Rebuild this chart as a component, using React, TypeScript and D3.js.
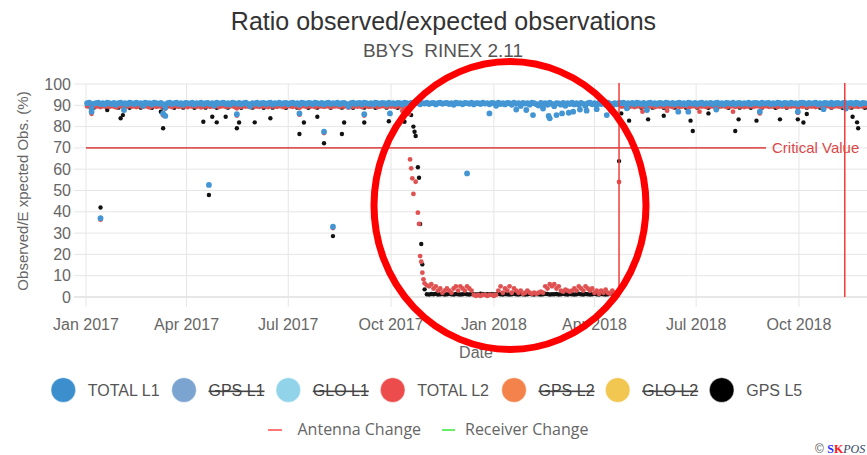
import React from "react";
import * as d3 from "d3";

const W = 867;
const H = 455;

const TITLE = "Ratio observed/expected observations";
const SUBTITLE = "BBYS  RINEX 2.11";
const Y_TITLE = "Observed/E xpected Obs. (%)";
const X_TITLE = "Date";
const Y_TICKS = [0, 10, 20, 30, 40, 50, 60, 70, 80, 90, 100];
const X_TICKS = ["2017-01-01", "2017-04-01", "2017-07-01", "2017-10-01", "2018-01-01", "2018-04-01", "2018-07-01", "2018-10-01"];
const BASE_DATE = "2017-01-01";
const END_DATE = "2018-11-30";
const CRITICAL_VALUE = 70;
const CRITICAL_LABEL = "Critical Value";
const ANTENNA_CHANGES = ["2018-04-23", "2018-11-11"];
const COPYRIGHT = ["© ", "S", "K", "POS"];

const LEGEND_NAMES = ["TOTAL L1", "GPS L1", "GLO L1", "TOTAL L2", "GPS L2", "GLO L2", "GPS L5"];
const LEGEND_COLORS = ["#3b8fcd", "#7ba4d0", "#91d4ea", "#ec4c4c", "#f3834a", "#f1c651", "#000000"];
const LEGEND_HIDDEN = [false, true, true, false, true, true, false];
const CHANGE_NAMES = ["Antenna Change", "Receiver Change"];
const CHANGE_COLORS = ["#ff7777", "#66ee66"];

// ---- TOTAL L1 (every 2nd day from day 1) ----
const L1_START = 1;
const L1_BAND = [
  91,91.2,88.6,90.8,91,91.3,90.6,91,90.4,91.2,91,90.6,91.1,90.2,91,91.3,90.7,91,90.5,91.2,
  91,90.6,91.2,90.8,91,89.8,91.2,90.9,91,90.4,91.2,91,90.7,91.1,90.5,88.8,91,91.2,90.6,91,
  91.2,90.6,91,90.3,91.1,91,90.7,91.2,90.4,91,90.8,91.2,90.5,91,91.1,90.6,91,89.9,91.2,90.8,
  91,91.2,90.6,91,90.4,91.2,91,90.7,91.1,90.5,91,91.2,90.6,89.6,91,90.8,91.2,90.5,91,91.1,
  90.6,91,91.2,90.4,91,90.8,91.2,90.6,91,91.1,90.5,91,91.2,90.7,91,90.3,91.2,91,90.6,91.1,
  91,90.5,91.2,91,90.7,91.1,90.4,91,91.2,90.6,91,90.8,91.2,90.5,91,91.1,90.6,89.4,91,91.2,
  90.6,91,91.1,90.5,91.2,91,90.7,91,90.4,91.2,91,90.6,91.1,91,90.5,91.2,90.8,91,90.6,91.1,
  91,90.4,91.2,91,90.7,91.1,90.6,91,91.2,90.5,91,90.8,91.2,90.6,91,91.1,90.4,91,91.2,90.7,
  91,91.1,90.6,91,90.2,91.2,90.9,91,90.5,91.1,91,90.7,91.2,90.4,91,91,90.6,91.2,90.8,91,
  90.5,91.1,91,89.8,91.2,90.6,91,90.4,91.1,91,90.2,91.2,90.7,91,89.7,91.1,90.8,91,90.3,91.2,
  91,90.5,89.9,91.1,90.8,91,90.2,91.2,90.6,89.6,91,90.9,90.3,91.1,89.8,91,90.6,91.2,90.4,91,
  90.2,91.1,90.7,89.7,91,91.2,90.5,91,89.9,91.1,90.6,91,90.3,91.2,90.8,89.8,91,90.5,91.1,91,
  91.2,90.6,91,90.8,91.1,90.5,91.2,91,90.6,91.1,90.4,91,91.2,90.7,91,90.5,91.1,91,90.6,91.2,
  91,90.7,91.1,90.5,91,91.2,90.6,91,90.4,91.2,91,90.7,91.1,90.5,91,91.2,90.6,91,90.8,91.1,
  90.5,91,91.2,90.6,91,90.4,91.1,91,90.7,91.2,90.5,91,91.1,90.6,91,90.8,91.2,90.5,91,91.1,
  91,90.6,91.2,90.8,91,91.1,90.5,91,90.7,91.2,91,90.4,91.1,91,90.6,91.2,90.8,91,90.5,91.1,
  91.2,91,90.6,91.1,90.8,91,91.2,90.5,91,90.7,91.1,91,90.6,91.2,90.5,91,91.1,90.7,91,91.2,
  90.8,91,91.1,90.6,91.2,91,90.5,91.1,91,
];
const L1_EXTRA = [
  [5, 87], [13, 37], [34, 87.8], [69, 86.2], [71, 85], [110, 52.6], [135, 85.8], [191, 86.2],
  [213, 77.6], [221, 33], [249, 85.8], [272, 86.2], [341, 58], [361, 86.2], [385, 88], [394, 87.8],
  [400, 85.4], [409, 88.5], [414, 85], [415, 83.9], [421, 85.4], [426, 86.2], [432, 86.5], [436, 87],
  [442, 88], [448, 87.5], [457, 88.2], [466, 85.4], [470, 87.5], [484, 88.6], [502, 87.8], [530, 87],
  [539, 87], [564, 88], [603, 87], [637, 87], [660, 88.2], [680, 88.5],
];

// ---- TOTAL L2 ----
const L2_BEFORE_START = 1;
const L2_BEFORE = [
  89.5,89.3,89,89.6,89.4,89.5,89.2,89.6,89.4,89.5,89.3,89.6,89.4,89,89.5,89.6,89.3,89.5,89.4,89.6,
  89.4,89.5,89.2,89.6,89.5,89.3,89.6,89.4,89,89.5,89.6,89.3,89.5,89.4,89.6,88.5,89.4,89.5,89.2,89.6,
  89.5,89.3,89.6,89.4,89.5,89.2,89.6,89.4,89.5,89.3,89.6,89,89.5,89.4,89.6,89.3,89.5,89.4,89.6,89.2,
  89.5,89.6,89.3,89.4,89.5,89.6,89.2,88.6,89.5,89.3,89.6,89.4,89.5,89.1,89.6,89.4,89.5,89.3,89.6,89.4,
  89.5,89.2,89.6,89.4,89.5,89.3,89.6,89.5,89.1,89.4,89.6,89.5,89.3,89.6,89.4,88.8,89.5,89.6,89.3,89.5,
  89.4,89.6,89.2,89.5,89.4,89.6,89.3,89.5,89.6,89.1,89.4,89.5,89.6,89.3,89.5,89.4,89.6,88.9,89.5,89.3,
  89.6,89.4,89.5,89.2,89.6,89.5,89.3,89.4,89.6,89.5,89.1,89.4,89.6,89.5,89.3,89.6,89.4,89.5,89.2,89.6,
  89.4,89.5,88.8,89.2,87.5,
];
const L2_LOW_START = 305;
const L2_LOW = [
  5.5,5,6,4,5, 3,4,2,3,4,3,2, 4,5,3,5,4,3,5,4,3, 1,0.5,1,0.5,1,1,0.5,1,1,0.5,1,
  3,5,2,4,3,5,2,4,3, 2,3,1.5,2,3,2,1.5, 2,1.5,2,2.5,2, 5,4,6,5,6,4,5, 3,2.5,3.5,3,2.5,3,
  4,3,5,4,3,5,4,3,4, 2,3,1.5,3,2,3.5,2,1.5,3,2,1.5,
];
const L2_AFTER_START = 479;
const L2_AFTER = [
  89.4,89.6,89.3,89.5,89.4,89.6,89.2,89.5,89.6,89.4,89.3,89.5,89.6,89.4,89.5,89.1,89.6,89.4,89.5,89.3,
  89.6,89.4,89.5,89.2,89.6,89.5,89.3,89.4,89.6,89.5,89.1,89.4,89.6,89.5,89.3,89.6,89.4,89.5,89.2,89.6,
  89.4,89.5,89.3,89.6,89.4,89.5,89.6,89.2,89.4,89.5,89.6,89.3,89.5,89.4,89.6,89.2,89.5,89.4,89.6,89.3,
  89.5,89.6,89.4,89.1,89.5,89.6,89.3,89.4,89.5,89.6,89.2,89.5,89.4,89.6,89.3,89.5,89.4,89.6,89.5,89.2,
  89.6,89.4,89.5,89.3,89.6,89.4,89.5,89.2,89.6,89.5,89.3,89.4,89.6,89.5,89.1,89.4,89.6,89.5,89.3,89.6,
  89.4,89.5,89.2,89.6,89.4,89.5,89.3,89.6,89.4,89.5,
];
const L2_EXTRA = [
  [5, 86], [13, 36.3], [69, 85.3], [135, 85.2], [191, 85.6], [213, 77], [221, 32.4], [249, 85.2],
  [283, 87.4], [289, 86], [290, 64.6], [291, 60.4], [292, 55.7], [293, 48.4], [295, 54.1], [297, 39.6],
  [298, 34.3], [299, 19.2], [300, 16.6], [301, 11.4], [302, 8.3], [303, 6.4], [477, 54],
  [498, 87], [520, 87.5], [549, 87], [579, 87], [603, 86.2], [637, 86.5],
];

// ---- GPS L5 ----
const L5_BEFORE_START = 1;
const L5_BEFORE = [
  89.8,89.7,89.9,88.9,89.8,89.7,89.9,89.8,89.7,88.8,89.9,89.8,89.7,89.9,88.9,89.8,89.7,89.9,89.8,88.8,
  89.7,89.9,89.8,89.7,88.9,89.8,89.9,89.7,89.8,88.8,89.9,89.7,89.8,89.9,88.9,89.7,89.8,89.9,89.7,88.8,
  89.8,89.9,89.7,88.9,89.8,89.7,89.9,89.8,88.8,89.7,89.9,89.8,89.7,88.9,89.8,89.9,89.7,89.8,88.8,89.7,
  89.9,89.8,89.7,88.9,89.8,89.9,89.7,89.8,89.7,88.8,89.9,89.8,89.7,89.9,88.9,89.8,89.7,89.9,89.8,88.8,
  89.7,89.9,89.8,88.9,89.7,89.8,89.9,89.7,89.8,88.8,89.9,89.7,89.8,89.9,88.9,89.7,89.8,89.9,89.7,88.8,
  89.8,89.7,89.9,88.9,89.8,89.7,89.9,89.8,89.7,88.8,89.9,89.8,89.7,89.9,88.9,89.8,89.7,89.9,89.8,88.8,
  89.7,89.9,89.8,89.7,88.9,89.8,89.9,89.7,89.8,88.8,89.9,89.7,89.8,89.9,88.9,89.7,89.8,89.9,89.7,88.8,
  89.8,89.7,88.9,89.8,89.7,
];
const L5_LOW_START = 305;
const L5_LOW = [
  1.3,1.2,1.4,1.3,1.5,1.2,1.3,1.4,1.2,1.3,1.5,1.3,1.2,1.4,1.3,1.2,1.3,1.5,1.3,1.2,
  1.4,1.3,1.2,1.3,1.5,1.4,1.2,1.3,1.3,1.4,1.2,1.3,1.5,1.3,1.2,1.4,1.3,1.2,1.3,1.5,
  1.3,1.2,1.4,1.3,1.2,1.3,1.5,1.3,1.2,1.4,1.3,1.2,1.3,1.5,1.4,1.2,1.3,1.3,1.4,1.2,
  1.3,1.5,1.3,1.2,1.4,1.3,1.2,1.3,1.5,1.3,1.2,1.4,1.3,1.2,1.3,1.5,1.3,1.2,1.4,1.3,
  1.2,1.3,1.5,1.3,1.2,1.4,
];
const L5_AFTER_START = 479;
const L5_AFTER = [
  89.8,89.7,89.9,88.9,89.8,89.7,89.9,89.8,89.7,88.8,89.9,89.8,89.7,89.9,88.9,89.8,89.7,89.9,89.8,88.8,
  89.7,89.9,89.8,89.7,88.9,89.8,89.9,89.7,89.8,88.8,89.9,89.7,89.8,89.9,88.9,89.7,89.8,89.9,89.7,88.8,
  89.8,89.9,89.7,88.9,89.8,89.7,89.9,89.8,88.8,89.7,89.9,89.8,89.7,88.9,89.8,89.9,89.7,89.8,88.8,89.7,
  89.9,89.8,89.7,88.9,89.8,89.9,89.7,89.8,89.7,88.8,89.9,89.8,89.7,89.9,88.9,89.8,89.7,89.9,89.8,88.8,
  89.7,89.9,89.8,88.9,89.7,89.8,89.9,89.7,89.8,88.8,89.9,89.7,89.8,89.9,88.9,89.7,89.8,89.9,89.7,88.8,
  89.8,89.7,89.9,88.9,89.8,89.7,89.9,89.8,89.7,88.8,
];
const L5_EXTRA = [
  [13, 42], [19, 87.8], [31, 83.9], [33, 85.4], [67, 87], [69, 79.2], [105, 82.3], [110, 47.9],
  [113, 84.6], [117, 82], [125, 84.6], [135, 79.2], [137, 81.9], [151, 82], [165, 83.9], [191, 76.5],
  [195, 81.9], [207, 84.6], [213, 72.2], [221, 28.6], [229, 76.5], [231, 81.9], [249, 81.9], [271, 82.5],
  [285, 82.3], [291, 85.4], [293, 80], [294, 77.6], [295, 75.6], [297, 60.9], [298, 56], [299, 34.3],
  [300, 24.9], [301, 15.3], [303, 3.6], [477, 63.8], [479, 86.2], [486, 82.8], [503, 83.4], [517, 85.1],
  [541, 82.8], [543, 77.9], [557, 86.2], [581, 77.9], [584, 83.4], [600, 82.8], [621, 83.4], [637, 83.4],
  [642, 81.9], [645, 85.9], [686, 84.6], [690, 82], [691, 79.2],
];

// ---- layout ----
const PLOT = { left: 86, right: 866, top: 84, bottom: 297 };
const LEGEND_X = [63.3, 184, 288.3, 392.7, 514, 617.7, 721.7];
const FONT = "'Liberation Sans', Arial, Helvetica, sans-serif";

const parse = d3.timeParse("%Y-%m-%d");
const base = parse(BASE_DATE) as Date;

type Pt = { date: Date; v: number };
function band(start: number, vals: (number | null)[], step = 2): Pt[] {
  const out: Pt[] = [];
  vals.forEach((v, i) => {
    if (v != null) out.push({ date: d3.timeDay.offset(base, start + i * step), v });
  });
  return out;
}
function extra(list: number[][]): Pt[] {
  return list.map(([d, v]) => ({ date: d3.timeDay.offset(base, d), v }));
}

const L1 = [...band(L1_START, L1_BAND), ...extra(L1_EXTRA)];
const L2 = [...band(L2_BEFORE_START, L2_BEFORE), ...band(L2_LOW_START, L2_LOW), ...band(L2_AFTER_START, L2_AFTER), ...extra(L2_EXTRA)];
const L5 = [...band(L5_BEFORE_START, L5_BEFORE), ...band(L5_LOW_START, L5_LOW), ...band(L5_AFTER_START, L5_AFTER), ...extra(L5_EXTRA)];

export default function App() {
  const x = d3.scaleTime().domain([base, parse(END_DATE) as Date]).range([PLOT.left, PLOT.right]);
  const y = d3.scaleLinear().domain([0, 100]).range([PLOT.bottom, PLOT.top]);
  const fmt = d3.timeFormat("%b %Y");
  const xt = X_TICKS.map((s) => parse(s) as Date);
  const yc = y(CRITICAL_VALUE);

  return (
    <svg width={W} height={H} style={{ display: "block", position: "absolute", left: 0, top: 0, background: "#fff" }} fontFamily={FONT}>
      <rect width={W} height={H} fill="#fff" />
      <text x={443.5} y={30} textAnchor="middle" fontSize={25} fill="#333">{TITLE}</text>
      <text x={443} y={57} textAnchor="middle" fontSize={19} fill="#555" style={{ whiteSpace: "pre" }}>{SUBTITLE}</text>

      {Y_TICKS.map((t) => (
        <line key={"yg" + t} x1={74} x2={PLOT.right + 2} y1={y(t)} y2={y(t)} stroke={t === 0 ? "#cfcfcf" : "#e6e6e6"} strokeWidth={1} />
      ))}
      {xt.map((d, i) => (
        <line key={"xg" + i} x1={x(d)} x2={x(d)} y1={PLOT.top} y2={PLOT.bottom + 10} stroke="#e6e6e6" strokeWidth={1} />
      ))}
      {Y_TICKS.map((t) => (
        <text key={"yl" + t} x={71} y={y(t) + 5.5} textAnchor="end" fontSize={16} fill="#666">{t}</text>
      ))}
      {xt.map((d, i) => (
        <text key={"xl" + i} x={x(d)} y={330} textAnchor="middle" fontSize={16} fill="#666">{fmt(d)}</text>
      ))}
      <text x={(PLOT.left + PLOT.right) / 2} y={358} textAnchor="middle" fontSize={16} fill="#666">{X_TITLE}</text>
      <text transform={`translate(27.5,191) rotate(-90)`} textAnchor="middle" fontSize={15} fill="#666" style={{ whiteSpace: "pre" }}>{Y_TITLE}</text>

      <line x1={PLOT.left} x2={766} y1={yc} y2={yc} stroke="#d9393a" strokeOpacity={0.85} strokeWidth={1.6} />
      <text x={772} y={yc + 5.5} fontSize={15} fill="#d9494a">{CRITICAL_LABEL}</text>

      <g>
        {L5.map((p, i) => <circle key={"c5" + i} cx={x(p.date)} cy={y(p.v)} r={2.2} fill="#111" />)}
      </g>
      <g>
        {L2.map((p, i) => <circle key={"c2" + i} cx={x(p.date)} cy={y(p.v)} r={2.4} fill="#e05252" />)}
      </g>
      <g>
        {L1.map((p, i) => <circle key={"c1" + i} cx={x(p.date)} cy={y(p.v)} r={2.9} fill="#4396d3" />)}
      </g>

      {ANTENNA_CHANGES.map((s, i) => {
        const xx = x(parse(s) as Date);
        return <line key={"ac" + i} x1={xx} x2={xx} y1={PLOT.top - 1} y2={PLOT.bottom} stroke="#f03c3c" strokeWidth={1.5} />;
      })}

      {LEGEND_NAMES.map((n, i) => (
        <g key={"lg" + i}>
          <circle cx={LEGEND_X[i]} cy={390} r={12.3} fill={LEGEND_COLORS[i]} stroke="#ffffff" strokeOpacity={0.4} strokeWidth={1} />
          <text x={LEGEND_X[i] + 24.5} y={396} fontSize={16} fill={LEGEND_HIDDEN[i] ? "#444" : "#555"}
            style={{ textDecoration: LEGEND_HIDDEN[i] ? "line-through" : "none" }}>{n}</text>
        </g>
      ))}

      <g fontFamily="'Open Sans', sans-serif" fontSize={16} fill="#666">
        <line x1={268} x2={282} y1={430} y2={430} stroke={CHANGE_COLORS[0]} strokeWidth={2} />
        <text x={297.5} y={435}>{CHANGE_NAMES[0]}</text>
        <line x1={442} x2={455} y1={430} y2={430} stroke={CHANGE_COLORS[1]} strokeWidth={2} />
        <text x={465} y={435}>{CHANGE_NAMES[1]}</text>
      </g>

      <text x={815} y={453} fontSize={12}>
        <tspan fill="#555" fontFamily={FONT}>{COPYRIGHT[0]}</tspan>
        <tspan fill="#1f2bff" fontWeight="bold" fontFamily="'Liberation Serif', serif">{COPYRIGHT[1]}</tspan>
        <tspan fill="#ff1a1a" fontWeight="bold" fontFamily="'Liberation Serif', serif">{COPYRIGHT[2]}</tspan>
        <tspan fill="#334466" fontStyle="italic" fontFamily="'Liberation Serif', serif">{COPYRIGHT[3]}</tspan>
      </text>

      <ellipse cx={510} cy={205.5} rx={136} ry={144} fill="none" stroke="#ff0000" strokeWidth={7} />
    </svg>
  );
}
